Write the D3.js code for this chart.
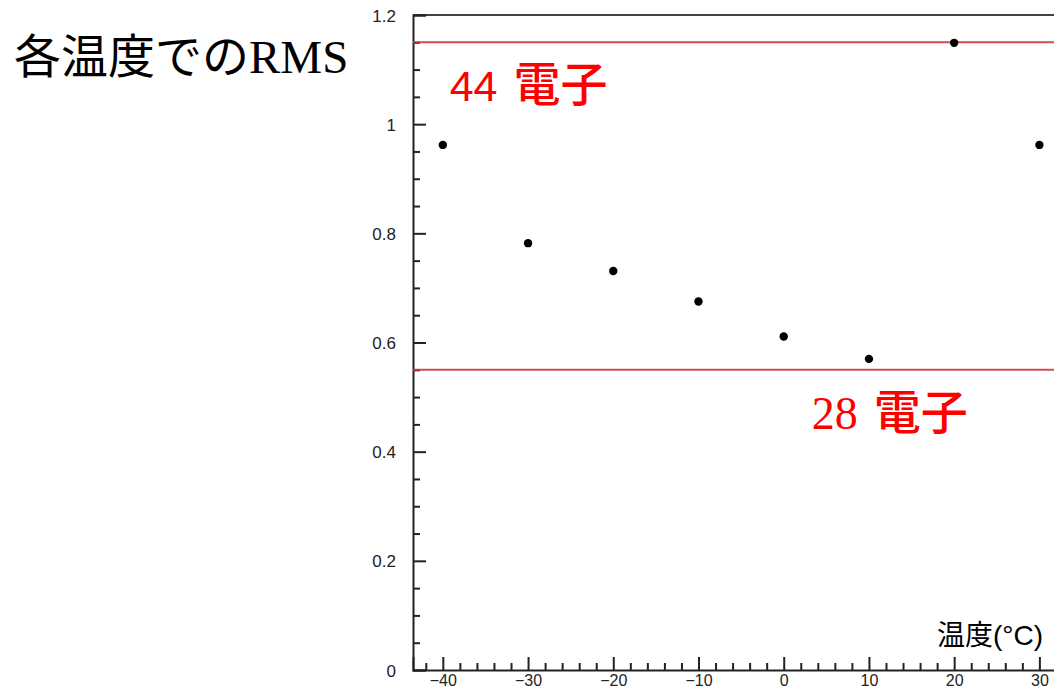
<!DOCTYPE html>
<html>
<head>
<meta charset="utf-8">
<script src="https://cdn.jsdelivr.net/npm/d3@7"></script>
<style>
  body { margin: 0; background: #fff; }
  svg { display: block; }
</style>
</head>
<body>
<div id="chart"></div>
<script>
// Data
const temps = [-40, -30, -20, -10, 0, 10, 20, 30];
const rmsValues = [0.962, 0.782, 0.731, 0.675, 0.611, 0.570, 1.149, 0.962];
const refLevels = [1.15, 0.55];
const refNumbers = ["44", "28"];
const refWord = "電子";
const refLabelX = [-39.2, 3.3];
const xTickValues = [-40, -30, -20, -10, 0, 10, 20, 30];
const yTickValues = [0, 0.2, 0.4, 0.6, 0.8, 1, 1.2];

const width = 1054, height = 692;

const svg = d3.select("#chart")
  .append("svg")
  .attr("width", width)
  .attr("height", height);

// Scales
const x = d3.scaleLinear().domain([-43.5, 35]).range([413, 1082]);
const y = d3.scaleLinear().domain([0, 1.2]).range([670, 15]);

const axisColor = "#222";
const labelFont = "'Liberation Sans', Arial, sans-serif";

// Title
svg.append("text")
  .attr("x", 14)
  .attr("y", 73)
  .style("font-family", "'Liberation Serif', 'Noto Sans CJK JP', serif")
  .attr("font-size", 47)
  .attr("fill", "#000")
  .text("各温度でのRMS");

// Top frame line
svg.append("line")
  .attr("x1", x(-43.5)).attr("x2", width)
  .attr("y1", y(1.2)).attr("y2", y(1.2))
  .attr("stroke", "#444")
  .attr("stroke-width", 2);

// Y axis (major + minor ticks)
const yMinor = d3.range(0, 1.2001, 0.05).filter(v => !yTickValues.some(t => Math.abs(t - v) < 1e-6));
svg.append("g")
  .attr("transform", `translate(${x(-43.5)},0)`)
  .call(d3.axisRight(y).tickValues(yMinor).tickSize(7).tickFormat(""))
  .call(g => g.select(".domain").remove())
  .call(g => g.selectAll("line").attr("stroke", axisColor).attr("stroke-width", 2));

const yAxis = svg.append("g")
  .attr("transform", `translate(${x(-43.5)},0)`)
  .call(d3.axisRight(y).tickValues(yTickValues).tickSize(13).tickFormat(d3.format("")))
  .call(g => g.select(".domain").attr("stroke", axisColor).attr("stroke-width", 2))
  .call(g => g.selectAll("line").attr("stroke", axisColor).attr("stroke-width", 2));
yAxis.selectAll("text")
  .attr("x", -17)
  .attr("dy", "0.36em")
  .attr("text-anchor", "end")
  .style("font-family", labelFont)
  .style("font-size", "17px")
  .attr("fill", "#222");

// X axis (major + minor ticks, pointing up)
const xMinor = d3.range(-42, 35, 2).filter(v => v % 10 !== 0);
svg.append("g")
  .attr("transform", `translate(0,${y(0)})`)
  .call(d3.axisTop(x).tickValues(xMinor).tickSize(7).tickFormat(""))
  .call(g => g.select(".domain").remove())
  .call(g => g.selectAll("line").attr("stroke", axisColor).attr("stroke-width", 2));

const xAxis = svg.append("g")
  .attr("transform", `translate(0,${y(0)})`)
  .call(d3.axisTop(x).tickValues(xTickValues).tickSize(13).tickFormat(d => d < 0 ? "\u2212" + Math.abs(d) : d))
  .call(g => g.select(".domain").attr("stroke", axisColor).attr("stroke-width", 2))
  .call(g => g.selectAll("line").attr("stroke", axisColor).attr("stroke-width", 2));
xAxis.selectAll("text")
  .attr("y", 16)
  .attr("dy", 0)
  .style("font-family", labelFont)
  .style("font-size", "16px")
  .attr("fill", "#222");

// X axis title
svg.append("text")
  .attr("x", 1043)
  .attr("y", 645)
  .attr("text-anchor", "end")
  .style("font-family", "'Liberation Sans', 'Noto Sans CJK JP', sans-serif")
  .attr("font-size", 28)
  .attr("fill", "#000")
  .text("温度(°C)");

// Reference lines
svg.selectAll(".ref")
  .data(refLevels)
  .join("line")
  .attr("class", "ref")
  .attr("x1", x(-43.5)).attr("x2", width)
  .attr("y1", d => y(d)).attr("y2", d => y(d))
  .attr("stroke", "#c83c3c")
  .attr("stroke-opacity", 0.9)
  .attr("stroke-width", 2);

// Reference labels: top number is sans, bottom is serif
const numFonts = ["'Liberation Sans', Arial, sans-serif", "'Liberation Serif', 'Times New Roman', serif"];
const labels = svg.selectAll(".ref-label")
  .data(refLevels)
  .join("text")
  .attr("class", "ref-label")
  .attr("x", (d, i) => x(refLabelX[i]))
  .attr("y", (d, i) => i === 0 ? y(d) + 59 : y(d) + 59)
  .attr("fill", "#ff0000");
labels.each(function(d, i) {
  const t = d3.select(this);
  t.append("tspan")
    .style("font-family", numFonts[i])
    .style("font-size", i === 0 ? "43px" : "46px")
    .text(refNumbers[i]);
  t.append("tspan")
    .attr("dx", i === 0 ? 16 : 16)
    .style("font-family", "'Noto Sans CJK JP', sans-serif")
    .style("font-size", "47px")
    .style("font-weight", "500")
    .text(refWord);
});

// Data points
svg.selectAll(".pt")
  .data(temps)
  .join("circle")
  .attr("class", "pt")
  .attr("cx", d => x(d))
  .attr("cy", (d, i) => y(rmsValues[i]))
  .attr("r", 4.2)
  .attr("fill", "#000");
</script>
</body>
</html>
